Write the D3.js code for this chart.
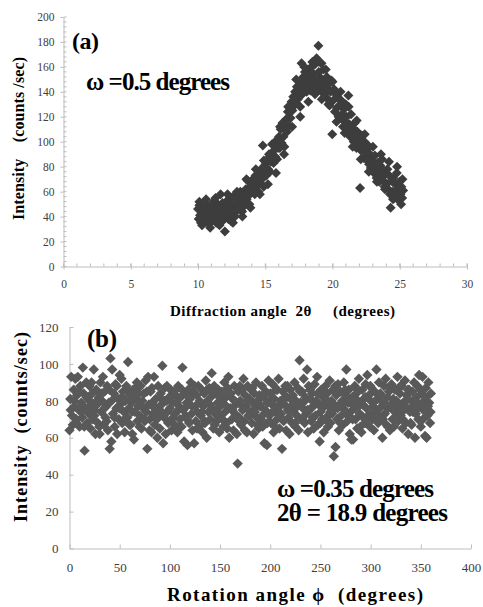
<!DOCTYPE html>
<html>
<head>
<meta charset="utf-8">
<script src="https://cdn.jsdelivr.net/npm/d3@7"></script>
<style>
  body { margin: 0; background: #fff; }
  svg { display: block; }
</style>
</head>
<body>
<div id="chart"></div>
<script>
// panel (a): diffraction angle 2theta (deg) vs intensity (counts/sec)
var scanA = [
  [10.00,46],[10.05,38],[10.10,49],[10.15,41],[10.22,35],[10.28,44],[10.35,39],[10.42,47],
  [10.48,36],[10.55,42],[10.62,50],[10.68,38],[10.75,45],[10.82,34],[10.88,41],[10.95,48],
  [11.02,37],[11.08,45],[11.15,52],[11.22,40],[11.28,47],[11.35,35],[11.42,43],[11.48,50],
  [11.55,39],[11.62,46],[11.68,58],[11.75,42],[11.82,51],[11.88,37],[11.95,44],[12.00,28],
  [12.05,49],[12.12,41],[12.18,53],[12.25,38],[12.32,47],[12.38,55],[12.45,43],[12.48,36],
  [12.55,50],[12.62,44],[12.68,57],[12.75,40],[12.82,48],[12.88,54],[12.95,45],
  [13.02,55],[13.08,47],[13.15,60],[13.22,51],[13.28,44],[13.35,58],[13.42,53],[13.48,49],
  [13.55,62],[13.62,54],[13.68,69],[13.75,57],[13.82,50],[13.88,64],[13.95,59],
  [14.02,61],[14.08,70],[14.15,66],[14.22,58],[14.28,73],[14.35,64],[14.42,69],[14.48,60],
  [14.55,75],[14.62,67],[14.68,78],[14.75,70],[14.82,97],[14.88,64],[14.95,76],
  [15.02,82],[15.08,73],[15.15,86],[15.22,78],[15.28,90],[15.35,76],[15.42,84],[15.48,88],
  [15.55,92],[15.62,83],[15.68,97],[15.75,88],[15.82,101],[15.88,86],[15.95,95],
  [16.02,104],[16.08,95],[16.15,110],[16.22,99],[16.28,115],[16.35,104],[16.42,96],[16.48,112],
  [16.55,118],[16.62,108],[16.68,124],[16.75,113],[16.82,128],[16.88,119],[16.95,132],
  [17.02,125],[17.08,136],[17.15,129],[17.22,140],[17.28,131],[17.35,144],[17.42,134],[17.48,139],
  [17.55,141],[17.60,120],[17.65,147],[17.70,163],[17.75,138],[17.82,152],[17.88,144],[17.95,156],
  [18.02,149],[18.08,140],[18.15,158],[18.22,145],[18.28,153],[18.35,141],[18.42,160],[18.48,148],
  [18.55,155],[18.62,143],[18.68,162],[18.75,150],[18.82,167],[18.88,146],[18.95,177],[18.98,156],
  [19.05,152],[19.12,141],[19.18,163],[19.25,147],[19.32,158],[19.38,138],[19.45,149],
  [19.52,143],[19.58,152],[19.65,134],[19.72,146],[19.78,129],[19.85,140],[19.92,149],[19.98,106],
  [20.05,133],[20.12,142],[20.18,124],[20.25,138],[20.32,127],[20.38,135],[20.45,120],
  [20.52,129],[20.58,119],[20.65,133],[20.72,122],[20.78,112],[20.85,126],[20.92,116],[20.98,130],
  [21.05,120],[21.12,110],[21.18,137],[21.25,114],[21.32,104],[21.38,122],[21.45,108],
  [21.52,111],[21.58,100],[21.65,115],[21.72,104],[21.78,95],[21.85,108],[21.92,99],
  [22.02,102],[22.05,63],[22.12,93],[22.18,105],[22.25,96],[22.32,87],[22.38,100],[22.45,91],
  [22.52,94],[22.58,85],[22.65,97],[22.72,82],[22.78,90],[22.85,79],[22.92,87],
  [23.02,84],[23.08,75],[23.15,89],[23.22,79],[23.28,71],[23.35,83],[23.42,76],[23.48,68],
  [23.55,81],[23.62,72],[23.68,86],[23.75,69],[23.82,77],[23.88,64],[23.95,74],
  [24.02,66],[24.08,78],[24.15,62],[24.22,73],[24.28,58],[24.32,47],[24.38,69],[24.45,60],
  [24.52,71],[24.58,55],[24.65,66],[24.72,59],[24.78,75],[24.85,62],[24.92,53],[24.98,68],
  [25.05,58],[25.12,64],[25.18,55],[25.25,61],
  [10.10,52],[10.30,33],[10.60,54],[10.90,31],[11.30,55],[11.60,33],[12.20,58],[12.60,35],
  [12.90,60],[13.30,40],[13.60,70],[13.90,47],[14.30,78],[14.60,58],[14.90,85],[15.20,66],
  [15.50,98],[15.80,75],[16.10,112],[16.40,90],[16.70,128],[17.00,112],[17.30,150],[17.60,128],
  [17.90,160],[18.20,132],[18.50,164],[18.70,138],[19.00,164],[19.20,134],[19.50,158],[19.70,130],
  [20.00,148],[20.30,116],[20.60,140],[20.90,107],[21.20,128],[21.50,96],[21.80,117],[22.10,86],
  [22.40,106],[22.70,76],[23.00,96],[23.30,68],[23.60,90],[23.90,62],[24.20,84],[24.50,54],
  [24.80,80],[25.10,50],[25.20,70]
];

// panel (b): rotation angle phi (deg) vs intensity (counts/sec)
var scanB = [
  [0,64],[0.8,81],[1.7,93],[2.5,72],[3.3,67],[4.2,86],[5,77],[5.8,92],[6.7,70],[7.5,83],[8.3,93],[9.2,75],
  [10,66],[10.8,88],[11.7,79],[12.5,71],[13.3,98],[14.2,84],[15,53],[15.8,76],[16.7,90],[17.5,68],[18.3,81],[19.2,73],
  [20,88],[20.8,65],[21.7,79],[22.5,84],[23.3,70],[24.2,97],[25,75],[25.8,62],[26.7,86],[27.5,78],[28.3,68],[29.2,82],
  [30,62],[30.8,90],[31.7,74],[32.5,80],[33.3,93],[34.2,67],[35,85],[35.8,71],[36.7,77],[37.5,88],[38.3,64],[39.2,79],
  [40,54],[40.8,103],[41.7,58],[42.5,97],[43.3,73],[44.2,84],[45,66],[45.8,89],[46.7,76],[47.5,62],[48.3,81],[49.2,70],
  [50,94],[50.8,78],[51.7,92],[52.5,68],[53.3,85],[54.2,74],[55,63],[55.8,80],[56.7,88],[57.5,71],[58.3,101],[59.2,76],
  [60,83],[60.8,67],[61.7,79],[62.5,62],[63.3,86],[64.2,59],[65,74],[65.8,87],[66.7,81],[67.5,69],[68.3,77],[69.2,84],
  [70,72],[70.8,88],[71.7,65],[72.5,80],[73.3,76],[74.2,84],[75,69],[75.8,91],[76.7,74],[77.5,54],[78.3,93],[79.2,78],
  [80,70],[80.8,85],[81.7,63],[82.5,79],[83.3,73],[84.2,93],[85,67],[85.8,81],[86.7,76],[87.5,60],[88.3,88],[89.2,72],
  [90,65],[90.8,84],[91.7,78],[92.5,99],[93.3,57],[94.2,71],[95,87],[95.8,62],[96.7,80],[97.5,74],[98.3,68],[99.2,82],
  [100,76],[100.8,86],[101.7,64],[102.5,79],[103.3,71],[104.2,85],[105,67],[105.8,83],[106.7,74],[107.5,63],[108.3,88],[109.2,77],
  [110,70],[110.8,82],[111.7,66],[112.5,98],[113.3,75],[114.2,58],[115,84],[115.8,72],[116.7,79],[117.5,56],[118.3,86],[119.2,68],
  [120,81],[120.8,90],[121.7,73],[122.5,64],[123.3,85],[124.2,57],[125,77],[125.8,69],[126.7,83],[127.5,74],[128.3,88],[129.2,66],
  [130,79],[130.8,72],[131.7,86],[132.5,63],[133.3,77],[134.2,84],[135,68],[135.8,91],[136.7,60],[137.5,80],[138.3,74],[139.2,87],
  [140,70],[140.8,82],[141.7,95],[142.5,76],[143.3,65],[144.2,88],[145,73],[145.8,84],[146.7,69],[147.5,79],[148.3,86],[149.2,63],
  [150,77],[150.8,71],[151.7,85],[152.5,80],[153.3,66],[154.2,90],[155,74],[155.8,82],[156.7,68],[157.5,87],[158.3,93],[159.2,60],
  [160,76],[160.8,84],[161.7,70],[162.5,81],[163.3,64],[164.2,88],[165,73],[165.8,78],[166.7,62],[167.5,46],[168.3,85],[169.2,71],
  [170,80],[170.8,67],[171.7,86],[172.5,75],[173.3,92],[174.2,69],[175,83],[175.8,77],[176.7,63],[177.5,88],[178.3,72],[179.2,81],
  [180,74],[180.8,86],[181.7,68],[182.5,79],[183.3,62],[184.2,84],[185,76],[185.8,90],[186.7,71],[187.5,80],[188.3,65],[189.2,83],
  [190,77],[190.8,70],[191.7,88],[192.5,66],[193.3,82],[194.2,57],[195,75],[195.8,85],[196.7,56],[197.5,79],[198.3,91],[199.2,72],
  [200,84],[200.8,68],[201.7,78],[202.5,89],[203.3,63],[204.2,81],[205,74],[205.8,86],[206.7,70],[207.5,77],[208.3,92],[209.2,65],
  [210,80],[210.8,73],[211.7,54],[212.5,85],[213.3,69],[214.2,78],[215,88],[215.8,64],[216.7,82],[217.5,75],[218.3,71],[219.2,62],
  [220,86],[220.8,77],[221.7,68],[222.5,83],[223.3,74],[224.2,90],[225,66],[225.8,80],[226.7,72],[227.5,87],[228.3,64],[229.2,102],
  [230,79],[230.8,70],[231.7,85],[232.5,76],[233.3,92],[234.2,68],[235,82],[235.8,73],[236.7,97],[237.5,63],[238.3,88],[239.2,75],
  [240,81],[240.8,69],[241.7,84],[242.5,77],[243.3,65],[244.2,89],[245,72],[245.8,80],[246.7,93],[247.5,67],[248.3,78],[249.2,58],
  [250,74],[250.8,86],[251.7,70],[252.5,82],[253.3,63],[254.2,79],[255,88],[255.8,71],[256.7,84],[257.5,66],[258.3,77],[259.2,91],
  [260,68],[260.8,80],[261.7,73],[262.5,86],[263.3,50],[264.2,76],[265,55],[265.8,83],[266.7,70],[267.5,89],[268.3,64],[269.2,78],
  [270,85],[270.8,72],[271.7,80],[272.5,67],[273.3,90],[274.2,75],[275,83],[275.8,97],[276.7,69],[277.5,79],[278.3,86],[279.2,62],
  [280,74],[280.8,59],[281.7,82],[282.5,59],[283.3,77],[284.2,88],[285,70],[285.8,84],[286.7,65],[287.5,80],[288.3,92],[289.2,73],
  [290,78],[290.8,63],[291.7,86],[292.5,71],[293.3,81],[294.2,68],[295,89],[295.8,76],[296.7,94],[297.5,72],[298.3,83],[299.2,66],
  [300,80],[300.8,87],[301.7,70],[302.5,77],[303.3,64],[304.2,85],[305,74],[305.8,97],[306.7,81],[307.5,68],[308.3,90],[309.2,76],
  [310,83],[310.8,71],[311.7,60],[312.5,79],[313.3,88],[314.2,73],[315,92],[315.8,67],[316.7,82],[317.5,76],[318.3,85],[319.2,64],
  [320,78],[320.8,89],[321.7,70],[322.5,81],[323.3,66],[324.2,86],[325,74],[325.8,80],[326.7,93],[327.5,69],[328.3,77],[329.2,84],
  [330,72],[330.8,88],[331.7,65],[332.5,79],[333.3,75],[334.2,91],[335,68],[335.8,83],[336.7,76],[337.5,62],[338.3,86],[339.2,74],
  [340,80],[340.8,67],[341.7,85],[342.5,77],[343.3,90],[344.2,60],[345,73],[345.8,82],[346.7,88],[347.5,70],[348.3,94],[349.2,78],
  [350,66],[350.8,84],[351.7,93],[352.5,75],[353.3,80],[354.2,61],[355,87],[355.8,60],[356.7,72],[357.5,90],[358.3,79],[359.2,68],
  [360,84],
  [1.2,75],[4.6,80],[7.1,68],[9.8,85],[12.1,74],[14.7,66],[17.0,82],[19.6,77],[22.0,90],[24.8,72],[27.1,80],[29.7,66],
  [32.1,84],[34.7,76],[37.0,69],[39.7,86],[42.0,80],[44.8,71],[47.1,88],[49.6,76],[52.0,82],[54.7,70],[57.1,86],[59.7,67],
  [62.1,74],[64.7,82],[67.1,90],[69.7,66],[72.1,77],[74.7,70],[77.1,85],[79.7,64],[82.1,87],[84.7,76],[87.1,70],[89.7,82],
  [92.1,74],[94.7,80],[97.1,88],[99.7,69],[102.1,82],[104.7,73],[107.1,79],[109.7,66],[112.1,86],[114.7,76],[117.1,70],[119.7,82],
  [122.1,77],[124.7,88],[127.1,65],[129.7,80],[132.1,74],[134.7,69],[137.1,86],[139.7,78],[142.1,85],[144.7,67],[147.1,74],[149.7,82],
  [152.1,70],[154.7,78],[157.1,65],[159.7,84],[162.1,75],[164.7,80],[167.1,70],[169.7,88],[172.1,77],[174.7,64],[177.1,80],[179.7,72],
  [182.1,87],[184.7,74],[187.1,67],[189.7,78],[192.1,72],[194.7,84],[197.1,68],[199.7,80],[202.1,74],[204.7,66],[207.1,86],[209.7,77],
  [212.1,70],[214.7,82],[217.1,88],[219.7,74],[222.1,80],[224.7,68],[227.1,77],[229.7,85],[232.1,70],[234.7,80],[237.1,75],[239.7,86],
  [242.1,71],[244.7,78],[247.1,84],[249.7,68],[252.1,76],[254.7,70],[257.1,80],[259.7,74],[262.1,79],[264.7,88],[267.1,76],[269.7,68],
  [272.1,78],[274.7,86],[277.1,72],[279.7,80],[282.1,70],[284.7,76],[287.1,86],[289.7,66],[292.1,78],[294.7,82],[297.1,70],[299.7,88],
  [302.1,74],[304.7,80],[307.1,72],[309.7,84],[312.1,70],[314.7,78],[317.1,66],[319.7,87],[322.1,75],[324.7,79],[327.1,72],[329.7,88],
  [332.1,70],[334.7,80],[337.1,86],[339.7,68],[342.1,74],[344.7,80],[347.1,76],[349.7,86],[352.1,70],[354.7,82],[357.1,77],[359.7,74]
];

var ticksAx = [0, 5, 10, 15, 20, 25, 30];
var ticksAy = [0, 20, 40, 60, 80, 100, 120, 140, 160, 180, 200];
var ticksBx = [0, 50, 100, 150, 200, 250, 300, 350, 400];
var ticksBy = [0, 20, 40, 60, 80, 100, 120];

var serif = 'Liberation Serif';

var W = 483, H = 607;
var svg = d3.select('#chart').append('svg')
  .attr('width', W)
  .attr('height', H);

var defs = svg.append('defs');
defs.append('filter').attr('id', 'soft')
  .append('feGaussianBlur').attr('stdDeviation', 0.55);

function diamond(r) {
  return `M0,${-r}L${r},0L0,${r}L${-r},0Z`;
}

// bold serif label, fitted to the width it has in the figure
function label(g, txt, size, len) {
  var t = g.append('text')
    .style('font-family', serif)
    .style('font-weight', 'bold')
    .style('font-size', size + 'px')
    .style('white-space', 'pre')
    .attr('fill', '#000')
    .text(txt);
  if (len) t.attr('textLength', len).attr('lengthAdjust', 'spacing');
  return t;
}

var axisColor = '#bdbdbd';

// ---------- panel (a) ----------
var xA = d3.scaleLinear().domain([0, 30]).range([63.5, 467]);
var yA = d3.scaleLinear().domain([0, 200]).range([266.5, 17]);

var gA = svg.append('g');

// minor ticks
gA.append('g').selectAll('line')
  .data(d3.range(0, 30.01, 1))
  .enter().append('line')
  .attr('x1', d => xA(d)).attr('x2', d => xA(d))
  .attr('y1', yA(0)).attr('y2', yA(0) - 3)
  .attr('stroke', axisColor);
gA.append('g').selectAll('line')
  .data(d3.range(0, 200.01, 4))
  .enter().append('line')
  .attr('x1', xA(0)).attr('x2', xA(0) + 3)
  .attr('y1', d => yA(d)).attr('y2', d => yA(d))
  .attr('stroke', axisColor);

var axAx = d3.axisBottom(xA).tickValues(ticksAx).tickSize(3).tickSizeOuter(0).tickPadding(10);
var axAy = d3.axisLeft(yA).tickValues(ticksAy).tickSize(3).tickSizeOuter(0).tickPadding(6);

var gAx = gA.append('g')
  .attr('transform', `translate(0, ${yA(0)})`)
  .call(axAx);
var gAy = gA.append('g')
  .attr('transform', `translate(${xA(0)}, 0)`)
  .call(axAy);

[gAx, gAy].forEach(function (g) {
  g.select('.domain').attr('stroke', axisColor);
  g.selectAll('.tick line').attr('stroke', axisColor);
  g.selectAll('.tick text')
    .style('font-family', serif)
    .style('font-size', '11.5px')
    .attr('fill', '#404040');
});
gAx.selectAll('.tick line').attr('y1', -3);

gA.append('g').attr('filter', 'url(#soft)')
  .selectAll('path')
  .data(scanA)
  .enter().append('path')
  .attr('d', diamond(5))
  .attr('transform', d => `translate(${xA(d[0])}, ${yA(d[1])})`)
  .attr('fill', '#3d3d3d');

label(gA, '(a)', 24, 27).attr('x', 72).attr('y', 49);
label(gA, 'ω =0.5 degrees', 25, 144).attr('x', 86).attr('y', 90);

label(gA, 'Diffraction angle  2θ     (degrees)', 15, 225)
  .attr('x', 282.5).attr('y', 316)
  .attr('text-anchor', 'middle');

label(gA, 'Intensity    (counts /sec)', 16, 163)
  .attr('transform', 'translate(24, 138.5) rotate(-90)')
  .attr('text-anchor', 'middle');

// ---------- panel (b) ----------
var xB = d3.scaleLinear().domain([0, 400]).range([69.5, 471]);
var yB = d3.scaleLinear().domain([0, 120]).range([548.5, 327]);

var gB = svg.append('g');

var axBx = d3.axisBottom(xB).tickValues(ticksBx).tickSize(0).tickSizeOuter(0).tickPadding(14);
var axBy = d3.axisLeft(yB).tickValues(ticksBy).tickSize(0).tickSizeOuter(0).tickPadding(11);

var gBx = gB.append('g')
  .attr('transform', `translate(0, ${yB(0)})`)
  .call(axBx);
var gBy = gB.append('g')
  .attr('transform', `translate(${xB(0)}, 0)`)
  .call(axBy);

[gBx, gBy].forEach(function (g) {
  g.select('.domain').attr('stroke', axisColor);
  g.selectAll('.tick text')
    .style('font-family', serif)
    .style('font-size', '13px')
    .attr('fill', '#404040');
});
gBx.selectAll('.tick line').attr('y2', -4).attr('stroke', axisColor);
gBy.selectAll('.tick line').attr('x2', 4).attr('stroke', axisColor);

gB.append('g')
  .selectAll('path')
  .data(scanB)
  .enter().append('path')
  .attr('d', diamond(5.2))
  .attr('transform', d => `translate(${xB(d[0])}, ${yB(d[1])})`)
  .attr('fill', '#595959');

label(gB, '(b)', 25, 30).attr('x', 87).attr('y', 347);
label(gB, 'ω =0.35 degrees', 25, 157).attr('x', 277).attr('y', 497);
label(gB, '2θ = 18.9 degrees', 25, 171).attr('x', 277).attr('y', 521);

label(gB, 'Rotation angle ϕ  (degrees)', 19, 256)
  .attr('x', 295).attr('y', 601)
  .attr('text-anchor', 'middle');

label(gB, 'Intensity  (counts/sec)', 18, 190)
  .attr('transform', 'translate(27, 427) rotate(-90)')
  .attr('text-anchor', 'middle');
</script>
</body>
</html>
